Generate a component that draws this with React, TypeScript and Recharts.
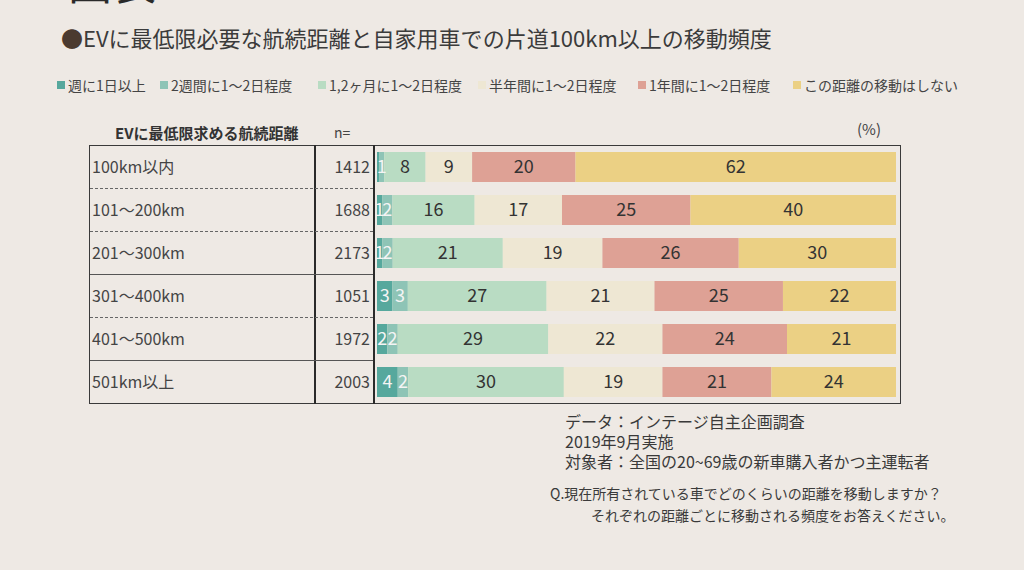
import React from 'react';
import { BarChart, Bar, XAxis, YAxis, LabelList } from 'recharts';

const categories = ['100km以内', '101～200km', '201～300km', '301～400km', '401～500km', '501km以上'];
const nValues = [1412, 1688, 2173, 1051, 1972, 2003];
const weekly = [0.4, 1, 1, 3, 2, 4];
const biweekly = [1, 2, 2, 3, 2, 2];
const monthly = [8, 16, 21, 27, 29, 30];
const halfYear = [9, 17, 19, 21, 22, 19];
const yearly = [20, 25, 26, 25, 24, 21];
const never = [62, 40, 30, 22, 21, 24];

const seriesNames = ['週に1日以上', '2週間に1～2日程度', '1,2ヶ月に1～2日程度', '半年間に1～2日程度', '1年間に1～2日程度', 'この距離の移動はしない'];
const seriesKeys = ['weekly', 'biweekly', 'monthly', 'halfYear', 'yearly', 'never'];
const seriesColors = ['#56a89d', '#8ec4b6', '#b9dcc3', '#eee7d3', '#dea195', '#ebd084'];
const labelColors = ['#f4f4f4', '#f4f4f4', '#333333', '#333333', '#333333', '#333333'];
const legendX = [57, 160, 318, 478, 638, 793];

const seriesValues = [weekly, biweekly, monthly, halfYear, yearly, never];

const data = categories.map((name, i) => {
  const row: any = { name, n: nValues[i] };
  seriesKeys.forEach((k, s) => {
    row[k] = seriesValues[s][i];
  });
  return row;
});

const FONT = '"Noto Sans CJK JP", "Noto Sans", sans-serif';

const RowTick = (props: any) => {
  const { x, y, payload } = props;
  const idx = payload.index;
  return (
    <g>
      <text x={x - 277} y={y} dy={6} fontSize={16} fill="#444" fontFamily={FONT} textAnchor="start">
        {payload.value}
      </text>
      <text x={x + 1} y={y} dy={6} fontSize={16} fill="#444" fontFamily={FONT} textAnchor="end">
        {nValues[idx]}
      </text>
    </g>
  );
};

const hLines = [
  { y: 188, dashed: true },
  { y: 231, dashed: true },
  { y: 274, dashed: false },
  { y: 317, dashed: true },
  { y: 360, dashed: false },
];

export default function App() {
  return (
    <div
      style={{
        position: 'absolute',
        left: 0,
        top: 0,
        width: 1024,
        height: 570,
        background: '#eee9e4',
        overflow: 'hidden',
        fontFamily: FONT,
        color: '#3a3a3a',
      }}
    >
      <div style={{ position: 'absolute', left: 68, top: -44, fontSize: 44, color: '#2a2a2a', lineHeight: '50px' }}>図表4</div>
      <div style={{ position: 'absolute', left: 61, top: 22, fontSize: 22, color: '#3b3b3b', lineHeight: '30px', whiteSpace: 'nowrap' }}>
        <span style={{ color: '#4a3a30' }}>●</span>EVに最低限必要な航続距離と自家用車での片道100km以上の移動頻度
      </div>

      {seriesNames.map((nm, i) => (
        <div key={nm} style={{ position: 'absolute', left: legendX[i], top: 75, height: 20, display: 'flex', alignItems: 'center', whiteSpace: 'nowrap', fontSize: 14, color: '#444' }}>
          <span style={{ display: 'inline-block', width: 8, height: 8, background: seriesColors[i], marginRight: 3 }} />
          {nm}
        </div>
      ))}

      <div style={{ position: 'absolute', left: 115, top: 122, fontSize: 15, fontWeight: 700, color: '#333', whiteSpace: 'nowrap' }}>EVに最低限求める航続距離</div>
      <div style={{ position: 'absolute', left: 334, top: 122, fontSize: 14, color: '#444' }}>n=</div>
      <div style={{ position: 'absolute', left: 857, top: 118, fontSize: 15, color: '#444' }}>(%)</div>

      {/* table frame */}
      <div style={{ position: 'absolute', left: 89, top: 145, width: 810, height: 257, border: '1.5px solid #3a3a3a' }} />
      <div style={{ position: 'absolute', left: 314, top: 145, width: 2, height: 259, background: '#2a2a2a' }} />
      <div style={{ position: 'absolute', left: 373, top: 145, width: 2, height: 259, background: '#2a2a2a' }} />
      {hLines.map((l) => (
        <div key={l.y} style={{ position: 'absolute', left: 90, top: l.y, width: 283, height: 0, borderTop: l.dashed ? '1px dashed #666' : '1px solid #555' }} />
      ))}

      <div style={{ position: 'absolute', left: 0, top: 0 }}>
        <BarChart
          width={1024}
          height={570}
          data={data}
          layout="vertical"
          stackOffset="expand"
          barSize={30}
          margin={{ top: 145, left: 89, right: 128, bottom: 167 }}
        >
          <XAxis type="number" hide domain={[0, 1]} />
          <YAxis type="category" dataKey="name" width={288} axisLine={false} tickLine={false} tick={<RowTick />} interval={0} />
          {seriesKeys.map((k, i) => (
            <Bar key={k} dataKey={k} name={seriesNames[i]} stackId="a" fill={seriesColors[i]} isAnimationActive={false}>
              <LabelList
                dataKey={k}
                position="center"
                fill={labelColors[i]}
                fontSize={18}
                fontFamily={FONT}
                formatter={(v: any) => (v >= 1 ? v : '')}
              />
            </Bar>
          ))}
        </BarChart>
      </div>

      <div style={{ position: 'absolute', left: 565, top: 411, fontSize: 16, lineHeight: '20px', color: '#3a3a3a', whiteSpace: 'nowrap' }}>
        <div>データ：インテージ自主企画調査</div>
        <div>2019年9月実施</div>
        <div>対象者：全国の20~69歳の新車購入者かつ主運転者</div>
      </div>
      <div style={{ position: 'absolute', left: 550, top: 482, fontSize: 14, lineHeight: '22px', color: '#3a3a3a', whiteSpace: 'nowrap' }}>
        <div>Q.現在所有されている車でどのくらいの距離を移動しますか？</div>
        <div style={{ paddingLeft: 41 }}>それぞれの距離ごとに移動される頻度をお答えください。</div>
      </div>
    </div>
  );
}
